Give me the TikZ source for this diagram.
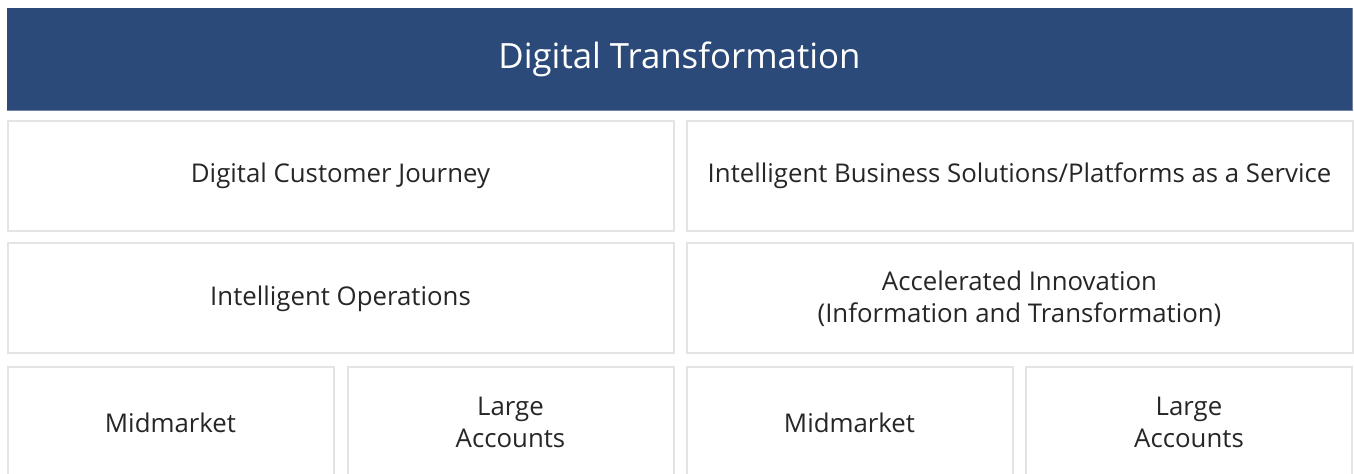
\documentclass[tikz,border=0pt]{standalone}
\usepackage{fontspec}
\setmainfont{Open Sans}
\usetikzlibrary{positioning}

\definecolor{bannerblue}{HTML}{2B4A7A}
\definecolor{banneredge}{HTML}{6F84A8}
\definecolor{cellline}{HTML}{E4E4E4}
\definecolor{celltext}{HTML}{262626}

\begin{document}
\begin{tikzpicture}[%
    x=0.5pt, y=-0.5pt,          % one unit is one pixel of the layout
    ]
% -------------------------------------------------
% Box styles
\tikzset{
  base/.style={rectangle, inner sep=0pt, align=center, anchor=center},
  banner/.style={base, fill=bannerblue, text=white,
    font={\fontsize{17.4}{21}\selectfont},
    minimum width=672.5pt, minimum height=51pt},
  cell/.style={base, draw=cellline, line width=1pt, text=celltext,
    font={\fontsize{12.9}{16}\selectfont}, minimum height=55pt},
  wide/.style={cell, minimum width=333pt},
  half/.style={cell, minimum width=163pt},
}
\useasboundingbox (0,0) rectangle (1354,474);
% -------------------------------------------------
% Header
\node [banner] (dt) at (679.5,59) {\raisebox{-1.5pt}{Digital Transformation}};
\draw [banneredge, line width=0.8pt] (dt.south west) -- (dt.south east) -- (dt.north east);
% Two rows of wide boxes
\node [wide] (dcj) at (340.5,176) {Digital Customer Journey};
\node [wide] (ibs) at (1019.5,176) {Intelligent Business Solutions/Platforms as a Service};
\node [wide] (io) at (340.5,298.5) {Intelligent Operations};
\node [wide] (ai) at (1019.5,298.5) {Accelerated Innovation\\(Information and Transformation)};
% Bottom row, cut off by the page edge
\node [half] (mm1) at (170.5,422.5) {Midmarket};
\node [half] (la1) at (510.5,422.5) {Large\\Accounts};
\node [half] (mm2) at (849.5,422.5) {Midmarket};
\node [half] (la2) at (1189,422.5) {Large\\Accounts};
% -------------------------------------------------
\end{tikzpicture}
\end{document}
